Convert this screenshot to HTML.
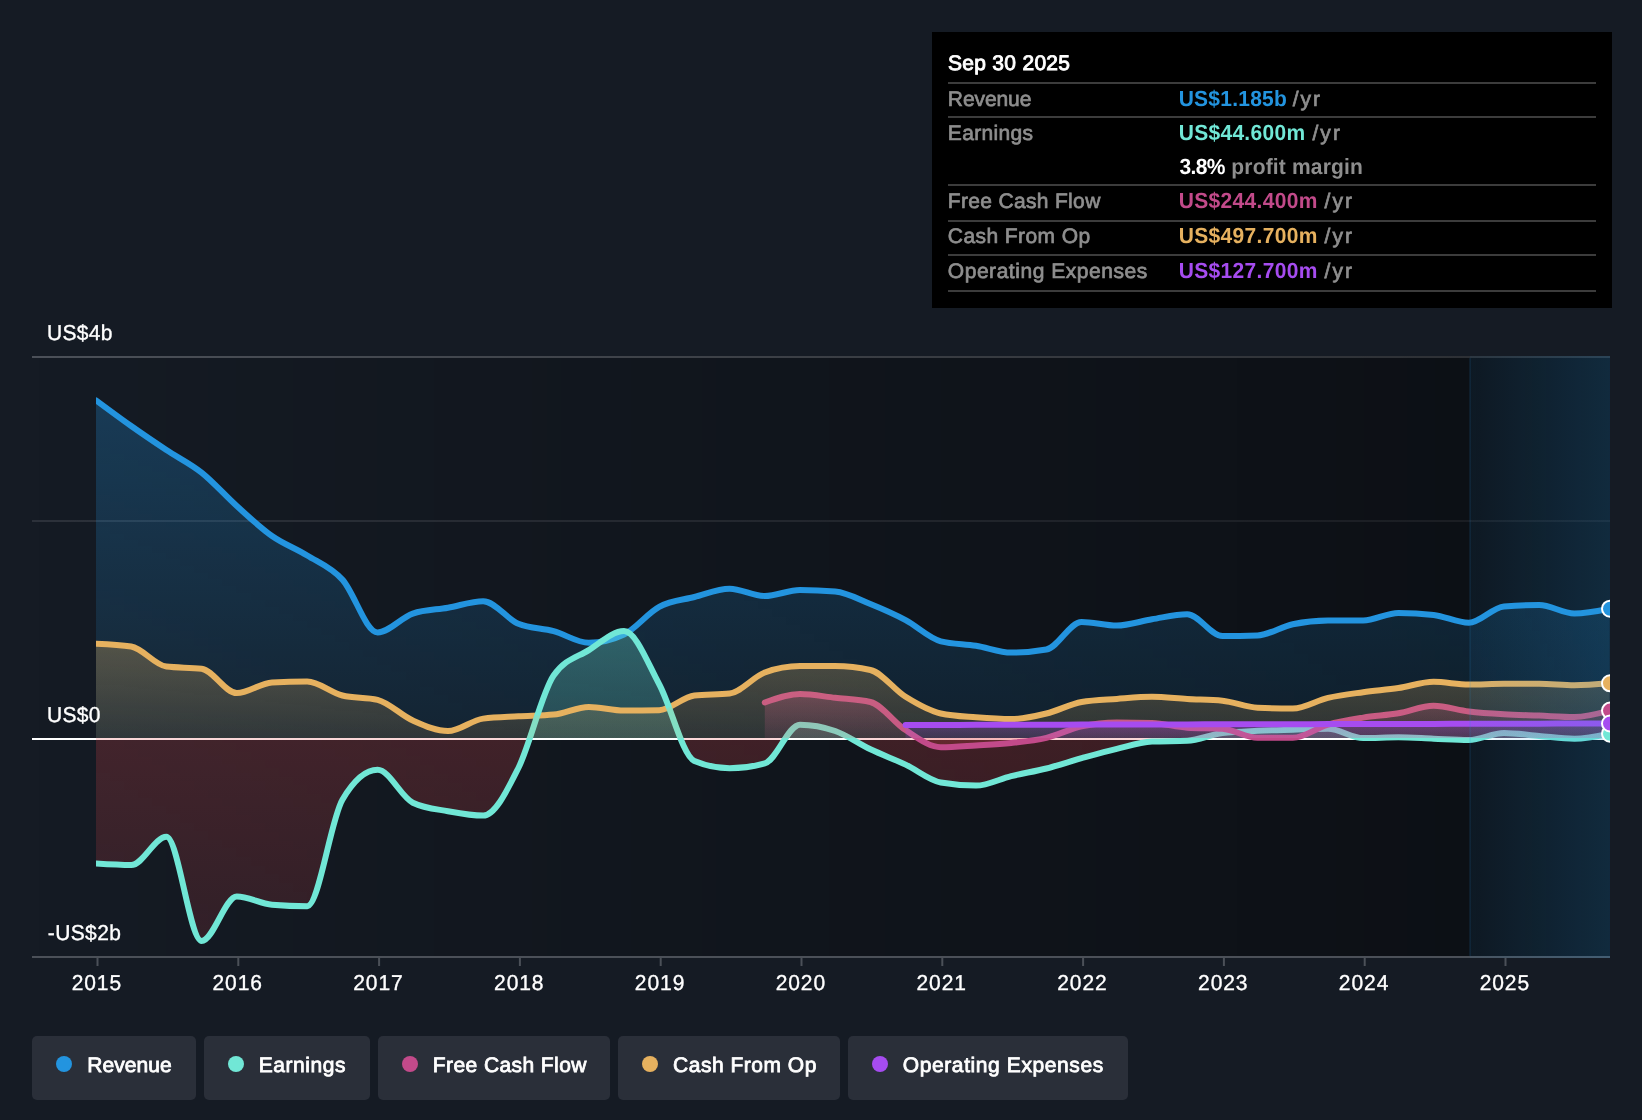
<!DOCTYPE html>
<html><head><meta charset="utf-8"><title>chart</title>
<style>
html,body{margin:0;padding:0;background:#151b24;}
body{width:1642px;height:1120px;position:relative;overflow:hidden;}
svg{position:absolute;left:0;top:0;font-family:"Liberation Sans",sans-serif;}
</style></head><body>
<svg width="1642" height="1120" viewBox="0 0 1642 1120" style="will-change:transform" text-rendering="geometricPrecision">
<defs>
<linearGradient id="gbg" x1="32" x2="1470" y1="0" y2="0" gradientUnits="userSpaceOnUse"><stop offset="0" stop-color="#000" stop-opacity="0"/><stop offset="1" stop-color="#000" stop-opacity="0.40"/></linearGradient>
<linearGradient id="ghl" x1="1470" x2="1610" y1="0" y2="0" gradientUnits="userSpaceOnUse"><stop offset="0" stop-color="#2394df" stop-opacity="0.07"/><stop offset="1" stop-color="#2394df" stop-opacity="0.20"/></linearGradient>
<linearGradient id="grev" x1="0" x2="0" y1="400" y2="738" gradientUnits="userSpaceOnUse"><stop offset="0" stop-color="#2394df" stop-opacity="0.27"/><stop offset="1" stop-color="#2394df" stop-opacity="0.1"/></linearGradient>
<linearGradient id="gearn" x1="0" x2="0" y1="630" y2="738" gradientUnits="userSpaceOnUse"><stop offset="0" stop-color="#71e7d6" stop-opacity="0.3"/><stop offset="1" stop-color="#71e7d6" stop-opacity="0.2"/></linearGradient>
<linearGradient id="gneg" x1="0" x2="0" y1="738" y2="940" gradientUnits="userSpaceOnUse"><stop offset="0" stop-color="#e5484d" stop-opacity="0.22"/><stop offset="1" stop-color="#e5484d" stop-opacity="0.14"/></linearGradient>
<linearGradient id="gcfo" x1="0" x2="0" y1="640" y2="738" gradientUnits="userSpaceOnUse"><stop offset="0" stop-color="#e6b15f" stop-opacity="0.3"/><stop offset="1" stop-color="#e6b15f" stop-opacity="0.13"/></linearGradient>
<linearGradient id="gfcf" x1="0" x2="0" y1="690" y2="738" gradientUnits="userSpaceOnUse"><stop offset="0" stop-color="#c24a8a" stop-opacity="0.35"/><stop offset="1" stop-color="#c24a8a" stop-opacity="0.12"/></linearGradient>
<linearGradient id="gopex" x1="0" x2="0" y1="722" y2="738" gradientUnits="userSpaceOnUse"><stop offset="0" stop-color="#a64cf0" stop-opacity="0.3"/><stop offset="1" stop-color="#a64cf0" stop-opacity="0.15"/></linearGradient>
<clipPath id="cpos"><rect x="96" y="340" width="1514" height="398"/></clipPath>
<clipPath id="cneg"><rect x="96" y="738" width="1514" height="230"/></clipPath>
<clipPath id="call"><rect x="96" y="340" width="1514" height="640"/></clipPath>
</defs>
<rect x="32" y="356" width="1578" height="2" fill="#4b5058"/>
<rect x="32" y="520" width="1578" height="2" fill="#2c313a"/>
<rect x="32" y="956" width="1578" height="2" fill="#4b5058"/>
<rect x="96.5" y="958" width="2" height="8" fill="#4b5058"/><rect x="237.3" y="958" width="2" height="8" fill="#4b5058"/><rect x="378.1" y="958" width="2" height="8" fill="#4b5058"/><rect x="518.9" y="958" width="2" height="8" fill="#4b5058"/><rect x="659.7" y="958" width="2" height="8" fill="#4b5058"/><rect x="800.5" y="958" width="2" height="8" fill="#4b5058"/><rect x="941.3" y="958" width="2" height="8" fill="#4b5058"/><rect x="1082.1" y="958" width="2" height="8" fill="#4b5058"/><rect x="1222.9" y="958" width="2" height="8" fill="#4b5058"/><rect x="1363.7" y="958" width="2" height="8" fill="#4b5058"/><rect x="1504.5" y="958" width="2" height="8" fill="#4b5058"/>
<rect x="32" y="356" width="1578" height="600" fill="url(#gbg)"/>
<rect x="32" y="738" width="1578" height="2" fill="#fff"/>
<g clip-path="url(#call)" fill="none" stroke-width="6" stroke-linejoin="round" stroke-linecap="round">
<path d="M96.00,400.30C107.73,409.01,119.47,417.72,131.20,426.00C142.93,434.28,154.67,442.23,166.40,450.00C178.13,457.77,189.87,463.27,201.60,472.60C213.33,481.93,225.07,495.43,236.80,506.00C248.53,516.57,260.27,527.75,272.00,536.00C283.73,544.25,295.47,548.23,307.20,555.50C318.93,562.77,330.67,566.78,342.40,579.60C354.13,592.42,365.87,632.40,377.60,632.40C389.33,632.40,401.07,617.53,412.80,613.60C424.53,609.67,436.27,609.77,448.00,607.70C459.73,605.63,471.47,601.20,483.20,601.20C494.93,601.20,506.67,618.93,518.40,623.80C530.13,628.67,541.87,627.93,553.60,631.10C565.33,634.27,577.07,642.80,588.80,642.80C600.53,642.80,612.27,640.03,624.00,634.50C635.73,628.97,647.47,613.05,659.20,606.80C670.93,600.55,682.67,600.02,694.40,597.00C706.13,593.98,717.87,588.70,729.60,588.70C741.33,588.70,753.07,596.00,764.80,596.00C776.53,596.00,788.27,590.00,800.00,590.00C811.73,590.00,823.47,590.53,835.20,591.60C846.93,592.67,858.67,599.25,870.40,604.00C882.13,608.75,893.87,613.88,905.60,620.10C917.33,626.32,929.07,638.37,940.80,641.30C952.53,644.23,964.27,643.82,976.00,645.70C987.73,647.58,999.47,652.60,1011.20,652.60C1022.93,652.60,1034.67,651.57,1046.40,649.50C1058.13,647.43,1069.87,621.90,1081.60,621.90C1093.33,621.90,1105.07,625.50,1116.80,625.50C1128.53,625.50,1140.27,621.18,1152.00,619.30C1163.73,617.42,1175.47,614.20,1187.20,614.20C1198.93,614.20,1210.67,636.00,1222.40,636.00C1234.13,636.00,1245.87,635.80,1257.60,635.40C1269.33,635.00,1281.07,626.67,1292.80,624.20C1304.53,621.73,1316.27,620.50,1328.00,620.50C1339.73,620.50,1351.47,620.50,1363.20,620.50C1374.93,620.50,1386.67,612.90,1398.40,612.90C1410.13,612.90,1421.87,613.57,1433.60,614.90C1445.33,616.23,1457.07,622.70,1468.80,622.70C1480.53,622.70,1492.27,607.33,1504.00,606.40C1515.73,605.47,1527.47,605.00,1539.20,605.00C1550.93,605.00,1562.67,613.50,1574.40,613.50C1586.13,613.50,1597.87,611.10,1609.60,608.70L1609.60,738.00 L96.00,738.00 Z" fill="url(#grev)" stroke="none"/>
<path d="M96.00,400.30C107.73,409.01,119.47,417.72,131.20,426.00C142.93,434.28,154.67,442.23,166.40,450.00C178.13,457.77,189.87,463.27,201.60,472.60C213.33,481.93,225.07,495.43,236.80,506.00C248.53,516.57,260.27,527.75,272.00,536.00C283.73,544.25,295.47,548.23,307.20,555.50C318.93,562.77,330.67,566.78,342.40,579.60C354.13,592.42,365.87,632.40,377.60,632.40C389.33,632.40,401.07,617.53,412.80,613.60C424.53,609.67,436.27,609.77,448.00,607.70C459.73,605.63,471.47,601.20,483.20,601.20C494.93,601.20,506.67,618.93,518.40,623.80C530.13,628.67,541.87,627.93,553.60,631.10C565.33,634.27,577.07,642.80,588.80,642.80C600.53,642.80,612.27,640.03,624.00,634.50C635.73,628.97,647.47,613.05,659.20,606.80C670.93,600.55,682.67,600.02,694.40,597.00C706.13,593.98,717.87,588.70,729.60,588.70C741.33,588.70,753.07,596.00,764.80,596.00C776.53,596.00,788.27,590.00,800.00,590.00C811.73,590.00,823.47,590.53,835.20,591.60C846.93,592.67,858.67,599.25,870.40,604.00C882.13,608.75,893.87,613.88,905.60,620.10C917.33,626.32,929.07,638.37,940.80,641.30C952.53,644.23,964.27,643.82,976.00,645.70C987.73,647.58,999.47,652.60,1011.20,652.60C1022.93,652.60,1034.67,651.57,1046.40,649.50C1058.13,647.43,1069.87,621.90,1081.60,621.90C1093.33,621.90,1105.07,625.50,1116.80,625.50C1128.53,625.50,1140.27,621.18,1152.00,619.30C1163.73,617.42,1175.47,614.20,1187.20,614.20C1198.93,614.20,1210.67,636.00,1222.40,636.00C1234.13,636.00,1245.87,635.80,1257.60,635.40C1269.33,635.00,1281.07,626.67,1292.80,624.20C1304.53,621.73,1316.27,620.50,1328.00,620.50C1339.73,620.50,1351.47,620.50,1363.20,620.50C1374.93,620.50,1386.67,612.90,1398.40,612.90C1410.13,612.90,1421.87,613.57,1433.60,614.90C1445.33,616.23,1457.07,622.70,1468.80,622.70C1480.53,622.70,1492.27,607.33,1504.00,606.40C1515.73,605.47,1527.47,605.00,1539.20,605.00C1550.93,605.00,1562.67,613.50,1574.40,613.50C1586.13,613.50,1597.87,611.10,1609.60,608.70" stroke="#2394df"/>
<g clip-path="url(#cpos)"><path d="M96.00,863.60C107.73,864.35,119.47,865.10,131.20,865.10C142.93,865.10,154.67,836.80,166.40,836.80C178.13,836.80,189.87,941.00,201.60,941.00C213.33,941.00,225.07,896.50,236.80,896.50C248.53,896.50,260.27,903.70,272.00,904.70C283.73,905.70,295.47,906.20,307.20,906.20C318.93,906.20,330.67,819.63,342.40,799.70C354.13,779.77,365.87,769.80,377.60,769.80C389.33,769.80,401.07,797.03,412.80,802.70C424.53,808.37,436.27,809.05,448.00,811.20C459.73,813.35,471.47,815.60,483.20,815.60C494.93,815.60,506.67,791.35,518.40,768.00C530.13,744.65,541.87,692.43,553.60,675.50C565.33,658.57,577.07,657.50,588.80,650.10C600.53,642.70,612.27,631.10,624.00,631.10C635.73,631.10,647.47,662.55,659.20,684.20C670.93,705.85,682.67,756.13,694.40,761.00C706.13,765.87,717.87,768.30,729.60,768.30C741.33,768.30,753.07,766.67,764.80,763.40C776.53,760.13,788.27,724.70,800.00,724.70C811.73,724.70,823.47,726.90,835.20,731.00C846.93,735.10,858.67,743.70,870.40,749.30C882.13,754.90,893.87,759.07,905.60,764.60C917.33,770.13,929.07,780.43,940.80,782.50C952.53,784.57,964.27,785.60,976.00,785.60C987.73,785.60,999.47,778.95,1011.20,776.10C1022.93,773.25,1034.67,771.48,1046.40,768.50C1058.13,765.52,1069.87,761.48,1081.60,758.20C1093.33,754.92,1105.07,751.57,1116.80,748.80C1128.53,746.03,1140.27,742.13,1152.00,741.60C1163.73,741.07,1175.47,741.33,1187.20,740.80C1198.93,740.27,1210.67,734.47,1222.40,733.00C1234.13,731.53,1245.87,731.35,1257.60,730.80C1269.33,730.25,1281.07,730.03,1292.80,729.70C1304.53,729.37,1316.27,728.80,1328.00,728.80C1339.73,728.80,1351.47,738.10,1363.20,738.10C1374.93,738.10,1386.67,737.30,1398.40,737.30C1410.13,737.30,1421.87,738.25,1433.60,738.70C1445.33,739.15,1457.07,740.00,1468.80,740.00C1480.53,740.00,1492.27,733.00,1504.00,733.00C1515.73,733.00,1527.47,734.95,1539.20,735.90C1550.93,736.85,1562.67,738.70,1574.40,738.70C1586.13,738.70,1597.87,736.20,1609.60,733.70L1609.60,738.00 L96.00,738.00 Z" fill="url(#gearn)" stroke="none"/></g>
<g clip-path="url(#cneg)"><path d="M96.00,863.60C107.73,864.35,119.47,865.10,131.20,865.10C142.93,865.10,154.67,836.80,166.40,836.80C178.13,836.80,189.87,941.00,201.60,941.00C213.33,941.00,225.07,896.50,236.80,896.50C248.53,896.50,260.27,903.70,272.00,904.70C283.73,905.70,295.47,906.20,307.20,906.20C318.93,906.20,330.67,819.63,342.40,799.70C354.13,779.77,365.87,769.80,377.60,769.80C389.33,769.80,401.07,797.03,412.80,802.70C424.53,808.37,436.27,809.05,448.00,811.20C459.73,813.35,471.47,815.60,483.20,815.60C494.93,815.60,506.67,791.35,518.40,768.00C530.13,744.65,541.87,692.43,553.60,675.50C565.33,658.57,577.07,657.50,588.80,650.10C600.53,642.70,612.27,631.10,624.00,631.10C635.73,631.10,647.47,662.55,659.20,684.20C670.93,705.85,682.67,756.13,694.40,761.00C706.13,765.87,717.87,768.30,729.60,768.30C741.33,768.30,753.07,766.67,764.80,763.40C776.53,760.13,788.27,724.70,800.00,724.70C811.73,724.70,823.47,726.90,835.20,731.00C846.93,735.10,858.67,743.70,870.40,749.30C882.13,754.90,893.87,759.07,905.60,764.60C917.33,770.13,929.07,780.43,940.80,782.50C952.53,784.57,964.27,785.60,976.00,785.60C987.73,785.60,999.47,778.95,1011.20,776.10C1022.93,773.25,1034.67,771.48,1046.40,768.50C1058.13,765.52,1069.87,761.48,1081.60,758.20C1093.33,754.92,1105.07,751.57,1116.80,748.80C1128.53,746.03,1140.27,742.13,1152.00,741.60C1163.73,741.07,1175.47,741.33,1187.20,740.80C1198.93,740.27,1210.67,734.47,1222.40,733.00C1234.13,731.53,1245.87,731.35,1257.60,730.80C1269.33,730.25,1281.07,730.03,1292.80,729.70C1304.53,729.37,1316.27,728.80,1328.00,728.80C1339.73,728.80,1351.47,738.10,1363.20,738.10C1374.93,738.10,1386.67,737.30,1398.40,737.30C1410.13,737.30,1421.87,738.25,1433.60,738.70C1445.33,739.15,1457.07,740.00,1468.80,740.00C1480.53,740.00,1492.27,733.00,1504.00,733.00C1515.73,733.00,1527.47,734.95,1539.20,735.90C1550.93,736.85,1562.67,738.70,1574.40,738.70C1586.13,738.70,1597.87,736.20,1609.60,733.70L1609.60,738.00 L96.00,738.00 Z" fill="url(#gneg)" stroke="none"/></g>
<path d="M96.00,643.70C107.73,644.17,119.47,644.63,131.20,646.50C142.93,648.37,154.67,665.20,166.40,666.60C178.13,668.00,189.87,667.30,201.60,668.70C213.33,670.10,225.07,693.10,236.80,693.10C248.53,693.10,260.27,683.00,272.00,682.40C283.73,681.80,295.47,681.50,307.20,681.50C318.93,681.50,330.67,692.63,342.40,695.50C354.13,698.37,365.87,696.93,377.60,699.80C389.33,702.67,401.07,715.28,412.80,720.50C424.53,725.72,436.27,731.10,448.00,731.10C459.73,731.10,471.47,720.13,483.20,718.60C494.93,717.07,506.67,716.97,518.40,716.30C530.13,715.63,541.87,715.73,553.60,714.60C565.33,713.47,577.07,706.90,588.80,706.90C600.53,706.90,612.27,710.60,624.00,710.60C635.73,710.60,647.47,710.47,659.20,710.20C670.93,709.93,682.67,696.67,694.40,695.40C706.13,694.13,717.87,694.77,729.60,693.50C741.33,692.23,753.07,676.77,764.80,672.50C776.53,668.23,788.27,666.10,800.00,666.10C811.73,666.10,823.47,666.10,835.20,666.10C846.93,666.10,858.67,667.40,870.40,670.00C882.13,672.60,893.87,689.55,905.60,696.80C917.33,704.05,929.07,710.97,940.80,713.50C952.53,716.03,964.27,716.37,976.00,717.30C987.73,718.23,999.47,719.10,1011.20,719.10C1022.93,719.10,1034.67,716.35,1046.40,713.50C1058.13,710.65,1069.87,704.07,1081.60,702.00C1093.33,699.93,1105.07,699.77,1116.80,698.90C1128.53,698.03,1140.27,696.80,1152.00,696.80C1163.73,696.80,1175.47,698.35,1187.20,699.00C1198.93,699.65,1210.67,699.57,1222.40,700.70C1234.13,701.83,1245.87,707.10,1257.60,707.70C1269.33,708.30,1281.07,708.60,1292.80,708.60C1304.53,708.60,1316.27,700.63,1328.00,697.90C1339.73,695.17,1351.47,693.85,1363.20,692.20C1374.93,690.55,1386.67,689.73,1398.40,688.00C1410.13,686.27,1421.87,681.80,1433.60,681.80C1445.33,681.80,1457.07,684.60,1468.80,684.60C1480.53,684.60,1492.27,683.80,1504.00,683.80C1515.73,683.80,1527.47,683.80,1539.20,683.80C1550.93,683.80,1562.67,685.20,1574.40,685.20C1586.13,685.20,1597.87,684.25,1609.60,683.30" stroke="#e6b15f"/>
<path d="M96.00,863.60C107.73,864.35,119.47,865.10,131.20,865.10C142.93,865.10,154.67,836.80,166.40,836.80C178.13,836.80,189.87,941.00,201.60,941.00C213.33,941.00,225.07,896.50,236.80,896.50C248.53,896.50,260.27,903.70,272.00,904.70C283.73,905.70,295.47,906.20,307.20,906.20C318.93,906.20,330.67,819.63,342.40,799.70C354.13,779.77,365.87,769.80,377.60,769.80C389.33,769.80,401.07,797.03,412.80,802.70C424.53,808.37,436.27,809.05,448.00,811.20C459.73,813.35,471.47,815.60,483.20,815.60C494.93,815.60,506.67,791.35,518.40,768.00C530.13,744.65,541.87,692.43,553.60,675.50C565.33,658.57,577.07,657.50,588.80,650.10C600.53,642.70,612.27,631.10,624.00,631.10C635.73,631.10,647.47,662.55,659.20,684.20C670.93,705.85,682.67,756.13,694.40,761.00C706.13,765.87,717.87,768.30,729.60,768.30C741.33,768.30,753.07,766.67,764.80,763.40C776.53,760.13,788.27,724.70,800.00,724.70C811.73,724.70,823.47,726.90,835.20,731.00C846.93,735.10,858.67,743.70,870.40,749.30C882.13,754.90,893.87,759.07,905.60,764.60C917.33,770.13,929.07,780.43,940.80,782.50C952.53,784.57,964.27,785.60,976.00,785.60C987.73,785.60,999.47,778.95,1011.20,776.10C1022.93,773.25,1034.67,771.48,1046.40,768.50C1058.13,765.52,1069.87,761.48,1081.60,758.20C1093.33,754.92,1105.07,751.57,1116.80,748.80C1128.53,746.03,1140.27,742.13,1152.00,741.60C1163.73,741.07,1175.47,741.33,1187.20,740.80C1198.93,740.27,1210.67,734.47,1222.40,733.00C1234.13,731.53,1245.87,731.35,1257.60,730.80C1269.33,730.25,1281.07,730.03,1292.80,729.70C1304.53,729.37,1316.27,728.80,1328.00,728.80C1339.73,728.80,1351.47,738.10,1363.20,738.10C1374.93,738.10,1386.67,737.30,1398.40,737.30C1410.13,737.30,1421.87,738.25,1433.60,738.70C1445.33,739.15,1457.07,740.00,1468.80,740.00C1480.53,740.00,1492.27,733.00,1504.00,733.00C1515.73,733.00,1527.47,734.95,1539.20,735.90C1550.93,736.85,1562.67,738.70,1574.40,738.70C1586.13,738.70,1597.87,736.20,1609.60,733.70" stroke="#71e7d6"/>
<g clip-path="url(#cpos)"><path d="M764.80,702.50C776.53,698.30,788.27,694.10,800.00,694.10C811.73,694.10,823.47,696.48,835.20,697.80C846.93,699.12,858.67,699.20,870.40,702.00C882.13,704.80,893.87,722.57,905.60,730.10C917.33,737.63,929.07,747.20,940.80,747.20C952.53,747.20,964.27,746.12,976.00,745.40C987.73,744.68,999.47,744.17,1011.20,742.90C1022.93,741.63,1034.67,740.57,1046.40,737.80C1058.13,735.03,1069.87,728.87,1081.60,726.30C1093.33,723.73,1105.07,722.40,1116.80,722.40C1128.53,722.40,1140.27,722.57,1152.00,722.90C1163.73,723.23,1175.47,726.97,1187.20,727.70C1198.93,728.43,1210.67,728.07,1222.40,728.80C1234.13,729.53,1245.87,737.80,1257.60,737.80C1269.33,737.80,1281.07,737.80,1292.80,737.80C1304.53,737.80,1316.27,727.97,1328.00,724.60C1339.73,721.23,1351.47,719.48,1363.20,717.60C1374.93,715.72,1386.67,715.27,1398.40,713.30C1410.13,711.33,1421.87,705.80,1433.60,705.80C1445.33,705.80,1457.07,710.00,1468.80,711.40C1480.53,712.80,1492.27,713.50,1504.00,714.20C1515.73,714.90,1527.47,715.13,1539.20,715.60C1550.93,716.07,1562.67,717.00,1574.40,717.00C1586.13,717.00,1597.87,713.80,1609.60,710.60L1609.60,738.00 L764.80,738.00 Z" fill="url(#gfcf)" stroke="none"/></g>
<g clip-path="url(#cneg)"><path d="M764.80,702.50C776.53,698.30,788.27,694.10,800.00,694.10C811.73,694.10,823.47,696.48,835.20,697.80C846.93,699.12,858.67,699.20,870.40,702.00C882.13,704.80,893.87,722.57,905.60,730.10C917.33,737.63,929.07,747.20,940.80,747.20C952.53,747.20,964.27,746.12,976.00,745.40C987.73,744.68,999.47,744.17,1011.20,742.90C1022.93,741.63,1034.67,740.57,1046.40,737.80C1058.13,735.03,1069.87,728.87,1081.60,726.30C1093.33,723.73,1105.07,722.40,1116.80,722.40C1128.53,722.40,1140.27,722.57,1152.00,722.90C1163.73,723.23,1175.47,726.97,1187.20,727.70C1198.93,728.43,1210.67,728.07,1222.40,728.80C1234.13,729.53,1245.87,737.80,1257.60,737.80C1269.33,737.80,1281.07,737.80,1292.80,737.80C1304.53,737.80,1316.27,727.97,1328.00,724.60C1339.73,721.23,1351.47,719.48,1363.20,717.60C1374.93,715.72,1386.67,715.27,1398.40,713.30C1410.13,711.33,1421.87,705.80,1433.60,705.80C1445.33,705.80,1457.07,710.00,1468.80,711.40C1480.53,712.80,1492.27,713.50,1504.00,714.20C1515.73,714.90,1527.47,715.13,1539.20,715.60C1550.93,716.07,1562.67,717.00,1574.40,717.00C1586.13,717.00,1597.87,713.80,1609.60,710.60L1609.60,738.00 L764.80,738.00 Z" fill="url(#gneg)" stroke="none"/></g>
<path d="M764.80,702.50C776.53,698.30,788.27,694.10,800.00,694.10C811.73,694.10,823.47,696.48,835.20,697.80C846.93,699.12,858.67,699.20,870.40,702.00C882.13,704.80,893.87,722.57,905.60,730.10C917.33,737.63,929.07,747.20,940.80,747.20C952.53,747.20,964.27,746.12,976.00,745.40C987.73,744.68,999.47,744.17,1011.20,742.90C1022.93,741.63,1034.67,740.57,1046.40,737.80C1058.13,735.03,1069.87,728.87,1081.60,726.30C1093.33,723.73,1105.07,722.40,1116.80,722.40C1128.53,722.40,1140.27,722.57,1152.00,722.90C1163.73,723.23,1175.47,726.97,1187.20,727.70C1198.93,728.43,1210.67,728.07,1222.40,728.80C1234.13,729.53,1245.87,737.80,1257.60,737.80C1269.33,737.80,1281.07,737.80,1292.80,737.80C1304.53,737.80,1316.27,727.97,1328.00,724.60C1339.73,721.23,1351.47,719.48,1363.20,717.60C1374.93,715.72,1386.67,715.27,1398.40,713.30C1410.13,711.33,1421.87,705.80,1433.60,705.80C1445.33,705.80,1457.07,710.00,1468.80,711.40C1480.53,712.80,1492.27,713.50,1504.00,714.20C1515.73,714.90,1527.47,715.13,1539.20,715.60C1550.93,716.07,1562.67,717.00,1574.40,717.00C1586.13,717.00,1597.87,713.80,1609.60,710.60" stroke="#c24a8a"/>
<path d="M96.00,643.70C107.73,644.17,119.47,644.63,131.20,646.50C142.93,648.37,154.67,665.20,166.40,666.60C178.13,668.00,189.87,667.30,201.60,668.70C213.33,670.10,225.07,693.10,236.80,693.10C248.53,693.10,260.27,683.00,272.00,682.40C283.73,681.80,295.47,681.50,307.20,681.50C318.93,681.50,330.67,692.63,342.40,695.50C354.13,698.37,365.87,696.93,377.60,699.80C389.33,702.67,401.07,715.28,412.80,720.50C424.53,725.72,436.27,731.10,448.00,731.10C459.73,731.10,471.47,720.13,483.20,718.60C494.93,717.07,506.67,716.97,518.40,716.30C530.13,715.63,541.87,715.73,553.60,714.60C565.33,713.47,577.07,706.90,588.80,706.90C600.53,706.90,612.27,710.60,624.00,710.60C635.73,710.60,647.47,710.47,659.20,710.20C670.93,709.93,682.67,696.67,694.40,695.40C706.13,694.13,717.87,694.77,729.60,693.50C741.33,692.23,753.07,676.77,764.80,672.50C776.53,668.23,788.27,666.10,800.00,666.10C811.73,666.10,823.47,666.10,835.20,666.10C846.93,666.10,858.67,667.40,870.40,670.00C882.13,672.60,893.87,689.55,905.60,696.80C917.33,704.05,929.07,710.97,940.80,713.50C952.53,716.03,964.27,716.37,976.00,717.30C987.73,718.23,999.47,719.10,1011.20,719.10C1022.93,719.10,1034.67,716.35,1046.40,713.50C1058.13,710.65,1069.87,704.07,1081.60,702.00C1093.33,699.93,1105.07,699.77,1116.80,698.90C1128.53,698.03,1140.27,696.80,1152.00,696.80C1163.73,696.80,1175.47,698.35,1187.20,699.00C1198.93,699.65,1210.67,699.57,1222.40,700.70C1234.13,701.83,1245.87,707.10,1257.60,707.70C1269.33,708.30,1281.07,708.60,1292.80,708.60C1304.53,708.60,1316.27,700.63,1328.00,697.90C1339.73,695.17,1351.47,693.85,1363.20,692.20C1374.93,690.55,1386.67,689.73,1398.40,688.00C1410.13,686.27,1421.87,681.80,1433.60,681.80C1445.33,681.80,1457.07,684.60,1468.80,684.60C1480.53,684.60,1492.27,683.80,1504.00,683.80C1515.73,683.80,1527.47,683.80,1539.20,683.80C1550.93,683.80,1562.67,685.20,1574.40,685.20C1586.13,685.20,1597.87,684.25,1609.60,683.30L1609.60,738.00 L96.00,738.00 Z" fill="url(#gcfo)" stroke="none"/>
<path d="M905.60,725.00C917.33,724.98,929.07,724.95,940.80,724.92C952.53,724.90,964.27,724.88,976.00,724.85C987.73,724.83,999.47,724.80,1011.20,724.77C1022.93,724.75,1034.67,724.73,1046.40,724.70C1058.13,724.68,1069.87,724.65,1081.60,724.62C1093.33,724.60,1105.07,724.57,1116.80,724.55C1128.53,724.52,1140.27,724.50,1152.00,724.48C1163.73,724.45,1175.47,724.42,1187.20,724.40C1198.93,724.38,1210.67,724.35,1222.40,724.33C1234.13,724.30,1245.87,724.27,1257.60,724.25C1269.33,724.23,1281.07,724.20,1292.80,724.17C1304.53,724.15,1316.27,724.12,1328.00,724.10C1339.73,724.08,1351.47,724.05,1363.20,724.02C1374.93,724.00,1386.67,723.98,1398.40,723.95C1410.13,723.93,1421.87,723.90,1433.60,723.88C1445.33,723.85,1457.07,723.82,1468.80,723.80C1480.53,723.77,1492.27,723.75,1504.00,723.73C1515.73,723.70,1527.47,723.67,1539.20,723.65C1550.93,723.62,1562.67,723.60,1574.40,723.58C1586.13,723.55,1597.87,723.52,1609.60,723.50L1609.60,738.00 L905.60,738.00 Z" fill="url(#gopex)" stroke="none"/>
<path d="M905.60,725.00C917.33,724.98,929.07,724.95,940.80,724.92C952.53,724.90,964.27,724.88,976.00,724.85C987.73,724.83,999.47,724.80,1011.20,724.77C1022.93,724.75,1034.67,724.73,1046.40,724.70C1058.13,724.68,1069.87,724.65,1081.60,724.62C1093.33,724.60,1105.07,724.57,1116.80,724.55C1128.53,724.52,1140.27,724.50,1152.00,724.48C1163.73,724.45,1175.47,724.42,1187.20,724.40C1198.93,724.38,1210.67,724.35,1222.40,724.33C1234.13,724.30,1245.87,724.27,1257.60,724.25C1269.33,724.23,1281.07,724.20,1292.80,724.17C1304.53,724.15,1316.27,724.12,1328.00,724.10C1339.73,724.08,1351.47,724.05,1363.20,724.02C1374.93,724.00,1386.67,723.98,1398.40,723.95C1410.13,723.93,1421.87,723.90,1433.60,723.88C1445.33,723.85,1457.07,723.82,1468.80,723.80C1480.53,723.77,1492.27,723.75,1504.00,723.73C1515.73,723.70,1527.47,723.67,1539.20,723.65C1550.93,723.62,1562.67,723.60,1574.40,723.58C1586.13,723.55,1597.87,723.52,1609.60,723.50" stroke="#a64cf0"/>
</g>
<rect x="1470" y="356" width="140" height="602" fill="url(#ghl)"/>
<rect x="1469" y="358" width="2" height="598" fill="#2394df" fill-opacity="0.11"/>
<g clip-path="url(#call)"><circle cx="1610" cy="608.7" r="8" fill="#2394df" stroke="#fff" stroke-width="2"/><circle cx="1610" cy="683.3" r="8" fill="#e6b15f" stroke="#fff" stroke-width="2"/><circle cx="1610" cy="733.7" r="8" fill="#71e7d6" stroke="#fff" stroke-width="2"/><circle cx="1610" cy="710.6" r="8" fill="#c24a8a" stroke="#fff" stroke-width="2"/><circle cx="1610" cy="723.5" r="8" fill="#a64cf0" stroke="#fff" stroke-width="2"/></g>
<text transform="translate(47.00,340.00) scale(1,1.020)" font-size="21" fill="#fff" stroke="#fff" stroke-width="0.35" textLength="65.4" lengthAdjust="spacing">US$4b</text>
<text transform="translate(47.00,721.80) scale(1,1.020)" font-size="21" fill="#fff" stroke="#fff" stroke-width="0.35" textLength="53.4" lengthAdjust="spacing">US$0</text>
<text transform="translate(47.80,939.50) scale(1,1.020)" font-size="21" fill="#fff" stroke="#fff" stroke-width="0.35" textLength="73.1" lengthAdjust="spacing">-US$2b</text>
<text transform="translate(71.65,989.60) scale(1,1.020)" font-size="21" fill="#fff" stroke="#fff" stroke-width="0.35" textLength="49.5" lengthAdjust="spacing">2015</text><text transform="translate(212.45,989.60) scale(1,1.020)" font-size="21" fill="#fff" stroke="#fff" stroke-width="0.35" textLength="49.5" lengthAdjust="spacing">2016</text><text transform="translate(353.25,989.60) scale(1,1.020)" font-size="21" fill="#fff" stroke="#fff" stroke-width="0.35" textLength="49.5" lengthAdjust="spacing">2017</text><text transform="translate(494.05,989.60) scale(1,1.020)" font-size="21" fill="#fff" stroke="#fff" stroke-width="0.35" textLength="49.5" lengthAdjust="spacing">2018</text><text transform="translate(634.85,989.60) scale(1,1.020)" font-size="21" fill="#fff" stroke="#fff" stroke-width="0.35" textLength="49.5" lengthAdjust="spacing">2019</text><text transform="translate(775.65,989.60) scale(1,1.020)" font-size="21" fill="#fff" stroke="#fff" stroke-width="0.35" textLength="49.5" lengthAdjust="spacing">2020</text><text transform="translate(916.45,989.60) scale(1,1.020)" font-size="21" fill="#fff" stroke="#fff" stroke-width="0.35" textLength="49.5" lengthAdjust="spacing">2021</text><text transform="translate(1057.25,989.60) scale(1,1.020)" font-size="21" fill="#fff" stroke="#fff" stroke-width="0.35" textLength="49.5" lengthAdjust="spacing">2022</text><text transform="translate(1198.05,989.60) scale(1,1.020)" font-size="21" fill="#fff" stroke="#fff" stroke-width="0.35" textLength="49.5" lengthAdjust="spacing">2023</text><text transform="translate(1338.85,989.60) scale(1,1.020)" font-size="21" fill="#fff" stroke="#fff" stroke-width="0.35" textLength="49.5" lengthAdjust="spacing">2024</text><text transform="translate(1479.65,989.60) scale(1,1.020)" font-size="21" fill="#fff" stroke="#fff" stroke-width="0.35" textLength="49.5" lengthAdjust="spacing">2025</text>
<rect x="932" y="32" width="680" height="276" fill="#000"/><rect x="948" y="82" width="648" height="2" fill="#3c3c3c"/><rect x="948" y="116" width="648" height="2" fill="#3c3c3c"/><rect x="948" y="184" width="648" height="2" fill="#3c3c3c"/><rect x="948" y="220" width="648" height="2" fill="#3c3c3c"/><rect x="948" y="254" width="648" height="2" fill="#3c3c3c"/><rect x="948" y="290" width="648" height="2" fill="#3c3c3c"/><text transform="translate(948.00,70.00) scale(1,1.000)" font-size="21" fill="#fff" stroke="#fff" stroke-width="0.9" textLength="122.0" lengthAdjust="spacing">Sep 30 2025</text><text transform="translate(947.80,105.70) scale(1,1.000)" font-size="21" fill="#8e8e8e" stroke="#8e8e8e" stroke-width="0.7" textLength="83.6" lengthAdjust="spacing">Revenue</text><text transform="translate(1178.70,105.70) scale(1,1.045)" font-size="21" fill="#2394df" font-weight="bold" textLength="108.1" lengthAdjust="spacing">US$1.185b</text><text transform="translate(1292.80,105.70) scale(1,1.000)" font-size="21" fill="#8e8e8e" stroke="#8e8e8e" stroke-width="0.7" textLength="27.1" lengthAdjust="spacing">/yr</text><text transform="translate(947.80,139.50) scale(1,1.000)" font-size="21" fill="#8e8e8e" stroke="#8e8e8e" stroke-width="0.7" textLength="85.3" lengthAdjust="spacing">Earnings</text><text transform="translate(1178.70,139.50) scale(1,1.045)" font-size="21" fill="#71e7d6" font-weight="bold" textLength="126.4" lengthAdjust="spacing">US$44.600m</text><text transform="translate(1312.40,139.50) scale(1,1.000)" font-size="21" fill="#8e8e8e" stroke="#8e8e8e" stroke-width="0.7" textLength="27.6" lengthAdjust="spacing">/yr</text><text transform="translate(947.80,208.00) scale(1,1.000)" font-size="21" fill="#8e8e8e" stroke="#8e8e8e" stroke-width="0.7" textLength="152.5" lengthAdjust="spacing">Free Cash Flow</text><text transform="translate(1178.70,208.00) scale(1,1.045)" font-size="21" fill="#c24a8a" font-weight="bold" textLength="138.8" lengthAdjust="spacing">US$244.400m</text><text transform="translate(1324.40,208.00) scale(1,1.000)" font-size="21" fill="#8e8e8e" stroke="#8e8e8e" stroke-width="0.7" textLength="27.7" lengthAdjust="spacing">/yr</text><text transform="translate(947.80,243.20) scale(1,1.000)" font-size="21" fill="#8e8e8e" stroke="#8e8e8e" stroke-width="0.7" textLength="142.4" lengthAdjust="spacing">Cash From Op</text><text transform="translate(1178.70,243.20) scale(1,1.045)" font-size="21" fill="#e6b15f" font-weight="bold" textLength="138.8" lengthAdjust="spacing">US$497.700m</text><text transform="translate(1324.40,243.20) scale(1,1.000)" font-size="21" fill="#8e8e8e" stroke="#8e8e8e" stroke-width="0.7" textLength="27.7" lengthAdjust="spacing">/yr</text><text transform="translate(947.80,277.60) scale(1,1.000)" font-size="21" fill="#8e8e8e" stroke="#8e8e8e" stroke-width="0.7" textLength="199.4" lengthAdjust="spacing">Operating Expenses</text><text transform="translate(1178.70,277.60) scale(1,1.045)" font-size="21" fill="#a64cf0" font-weight="bold" textLength="138.8" lengthAdjust="spacing">US$127.700m</text><text transform="translate(1324.40,277.60) scale(1,1.000)" font-size="21" fill="#8e8e8e" stroke="#8e8e8e" stroke-width="0.7" textLength="27.7" lengthAdjust="spacing">/yr</text><text transform="translate(1179.40,173.60) scale(1,1.045)" font-size="21" fill="#fff" font-weight="bold" textLength="46.1" lengthAdjust="spacing">3.8%</text><text transform="translate(1231.30,173.60) scale(1,1.045)" font-size="21" fill="#8e8e8e" font-weight="bold" textLength="131.6" lengthAdjust="spacing">profit margin</text>
<rect x="32" y="1036" width="164" height="64" rx="5" fill="#2a2f39"/><circle cx="64" cy="1064" r="8" fill="#2394df"/><text transform="translate(87.30,1072.20) scale(1,1.000)" font-size="21" fill="#fff" stroke="#fff" stroke-width="0.8" textLength="84.5" lengthAdjust="spacing">Revenue</text><rect x="204" y="1036" width="166" height="64" rx="5" fill="#2a2f39"/><circle cx="236" cy="1064" r="8" fill="#71e7d6"/><text transform="translate(258.80,1072.20) scale(1,1.000)" font-size="21" fill="#fff" stroke="#fff" stroke-width="0.8" textLength="86.6" lengthAdjust="spacing">Earnings</text><rect x="378" y="1036" width="232" height="64" rx="5" fill="#2a2f39"/><circle cx="410" cy="1064" r="8" fill="#c24a8a"/><text transform="translate(432.80,1072.20) scale(1,1.000)" font-size="21" fill="#fff" stroke="#fff" stroke-width="0.8" textLength="153.6" lengthAdjust="spacing">Free Cash Flow</text><rect x="618" y="1036" width="222" height="64" rx="5" fill="#2a2f39"/><circle cx="650" cy="1064" r="8" fill="#e6b15f"/><text transform="translate(673.00,1072.20) scale(1,1.000)" font-size="21" fill="#fff" stroke="#fff" stroke-width="0.8" textLength="143.4" lengthAdjust="spacing">Cash From Op</text><rect x="848" y="1036" width="280" height="64" rx="5" fill="#2a2f39"/><circle cx="880" cy="1064" r="8" fill="#a64cf0"/><text transform="translate(902.80,1072.20) scale(1,1.000)" font-size="21" fill="#fff" stroke="#fff" stroke-width="0.8" textLength="200.4" lengthAdjust="spacing">Operating Expenses</text>
</svg>
</body></html>
